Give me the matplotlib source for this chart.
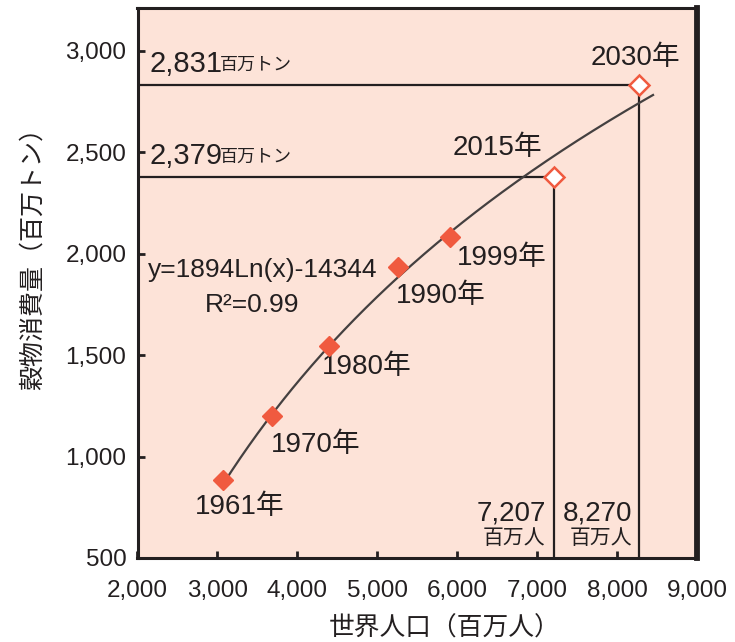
import numpy as np
import matplotlib
matplotlib.use('Agg')
import matplotlib.pyplot as plt

plt.rcParams['font.family'] = ['Liberation Sans', 'Noto Sans CJK JP', 'DejaVu Sans']

INK = '#231f20'
RED = '#f05a3f'
BG = '#fde3d8'

# observed points: world population (millions) vs cereal consumption (Mt)
years = ['1961年', '1970年', '1980年', '1990年', '1999年']
population = [3069, 3684, 4394, 5260, 5913]
consumption = [884, 1199, 1543, 1933, 2080]

# projections
proj_years = ['2015年', '2030年']
proj_population = [7207, 8270]
proj_consumption = [2379, 2831]
proj_pop_labels = ['7,207', '8,270']
proj_cons_labels = ['2,379', '2,831']

# log fit y = a*ln(x) + b
fit_a = 1894
fit_b = -14344
fit_range = [3069, 8450]

x_ticks = [2000, 3000, 4000, 5000, 6000, 7000, 8000, 9000]
x_ticklabels = ['2,000', '3,000', '4,000', '5,000', '6,000', '7,000', '8,000', '9,000']
y_ticks = [500, 1000, 1500, 2000, 2500, 3000]
y_ticklabels = ['500', '1,000', '1,500', '2,000', '2,500', '3,000']

# label offsets in pixels from each point
year_offsets = [(17, -27), (44, -29), (38, -21), (43, -29), (51, -21)]
proj_offsets = [(-56, 29), (-3, 27)]

fig = plt.figure(figsize=(7.35, 6.42), dpi=100)
ax = fig.add_axes([137.5 / 735, 1 - 558 / 642, (697 - 137.5) / 735, (558 - 8) / 642])
ax.set_facecolor(BG)
ax.set_xlim(2000, 9000)
ax.set_ylim(500, 3210)

# guide lines to the projected values
for px, py in zip(proj_population, proj_consumption):
    ax.plot([2000, px], [py, py], color=INK, lw=1.6, zorder=2, solid_capstyle='butt')
    ax.plot([px, px], [500, py], color=INK, lw=1.6, zorder=2, solid_capstyle='butt')

xs = np.linspace(fit_range[0], fit_range[1], 200)
ax.plot(xs, fit_a * np.log(xs) + fit_b, color='#444040', lw=1.6, zorder=3)

ax.plot(population, consumption, 'D', ms=10.5, color=RED, mec=RED, zorder=4, ls='none')
ax.plot(proj_population, proj_consumption, 'D', ms=10.5, mfc='white', mec=RED,
        mew=1.8, zorder=4, ls='none')

for label, px, py, off in zip(years, population, consumption, year_offsets):
    ax.annotate(label, (px, py), xytext=off, textcoords='offset pixels',
                ha='center', va='center', fontsize=20, color=INK)
for label, px, py, off in zip(proj_years, proj_population, proj_consumption, proj_offsets):
    ax.annotate(label, (px, py), xytext=off, textcoords='offset pixels',
                ha='center', va='center', fontsize=20, color=INK)

# consumption values above the horizontal guides
for lab, py in zip(proj_cons_labels, proj_consumption):
    t = ax.annotate(lab, (2000, py), xytext=(12, 7), textcoords='offset pixels',
                    ha='left', va='bottom', fontsize=21, color=INK)
    ax.annotate('百万トン', (1, 0), xycoords=t, xytext=(-3, 4), textcoords='offset pixels',
                ha='left', va='bottom', fontsize=13, color=INK)

# population values beside the vertical guides
ax.annotate(proj_pop_labels[0], (proj_population[0], 500), xytext=(-8, 44),
            textcoords='offset pixels', ha='right', va='center', fontsize=20, color=INK)
ax.annotate('百万人', (proj_population[0], 500), xytext=(-8, 19),
            textcoords='offset pixels', ha='right', va='center', fontsize=15, color=INK)
ax.annotate(proj_pop_labels[1], (proj_population[1], 500), xytext=(-6, 44),
            textcoords='offset pixels', ha='right', va='center', fontsize=20, color=INK)
ax.annotate('百万人', (proj_population[1], 500), xytext=(-6, 19),
            textcoords='offset pixels', ha='right', va='center', fontsize=15, color=INK)

ax.text(2132, 1917, 'y=1894Ln(x)-14344', ha='left', va='center', fontsize=19, color=INK)
ax.text(2847, 1745, 'R²=0.99', ha='left', va='center', fontsize=19, color=INK)

ax.set_xticks(x_ticks)
ax.set_xticklabels(x_ticklabels)
ax.set_yticks(y_ticks)
ax.set_yticklabels(y_ticklabels)
ax.tick_params(direction='in', length=5, width=2, color=INK, labelsize=17.5,
               labelcolor=INK, pad=16)
ax.tick_params(axis='y', pad=8)

for side in ['left', 'bottom', 'top']:
    ax.spines[side].set_linewidth(2.2)
    ax.spines[side].set_color(INK)
ax.spines['right'].set_linewidth(4.2)
ax.spines['right'].set_color(INK)

fig.text(445 / 735, 1 - 628 / 642, '世界人口（百万人）', ha='center', va='center',
         fontsize=18.5, color=INK)
fig.text(33 / 735, 1 - 253 / 642, '穀物消費量（百万トン）', ha='center', va='center',
         rotation=90, fontsize=18, color=INK)

fig.savefig('out.png', dpi=100)
